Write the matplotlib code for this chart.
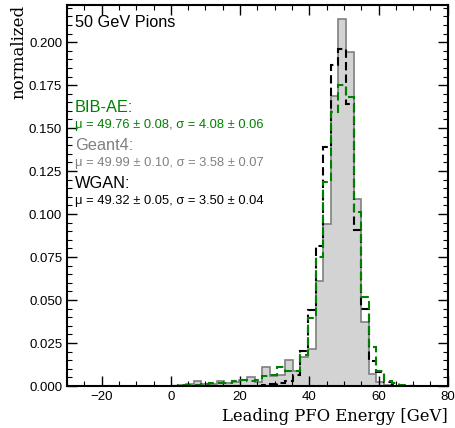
import numpy as np
import matplotlib
matplotlib.use("Agg")
from matplotlib import pyplot as plt
from matplotlib.ticker import MultipleLocator

# bin width 2.2 GeV, edges start at 0
bin_edges = np.round(np.arange(0, 33) * 2.2, 4)

geant4 = [0.0, 0.0006, 0.001, 0.003, 0.001, 0.0013, 0.0028, 0.002, 0.0025, 0.0035,
          0.005, 0.0025, 0.0112, 0.0058, 0.0063, 0.0154, 0.0088, 0.017, 0.0217, 0.0612,
          0.0942, 0.1689, 0.2137, 0.1943, 0.1089, 0.0371, 0.0068, 0.0025, 0.0006, 0.0,
          0.0, 0.0]
bib_ae = [0.0, 0.0004, 0.0006, 0.0008, 0.0013, 0.0015, 0.002, 0.002, 0.003, 0.0035,
          0.003, 0.0035, 0.0058, 0.0067, 0.011, 0.0085, 0.0088, 0.0179, 0.0395, 0.0753,
          0.1189, 0.1593, 0.1748, 0.1681, 0.1011, 0.0515, 0.0227, 0.0085, 0.0028, 0.0015,
          0.0006, 0.0]
wgan = [0.0, 0.0, 0.0, 0.0, 0.0, 0.0, 0.0, 0.0, 0.0, 0.0,
        0.0, 0.0, 0.0004, 0.001, 0.0015, 0.003, 0.0065, 0.0206, 0.0445, 0.0814,
        0.1389, 0.1864, 0.1958, 0.1641, 0.091, 0.0446, 0.0145, 0.0079, 0.0025, 0.0008,
        0.0, 0.0]

labels = ["BIB-AE:", "Geant4:", "WGAN:"]
stats = ["μ = 49.76 ± 0.08, σ = 4.08 ± 0.06",
         "μ = 49.99 ± 0.10, σ = 3.58 ± 0.07",
         "μ = 49.32 ± 0.05, σ = 3.50 ± 0.04"]
colors = ["green", "gray", "black"]

plt.rcParams["font.family"] = ["Liberation Sans", "DejaVu Sans"]

centers = (bin_edges[:-1] + bin_edges[1:]) / 2

fig = plt.figure(figsize=(4.56, 4.28), dpi=100)
ax = fig.add_axes([0.147, 0.098, 0.835, 0.89])

ax.hist(centers, bins=bin_edges, weights=geant4, histtype="stepfilled",
        facecolor="lightgray", edgecolor="gray", linewidth=1.2)
ax.hist(centers, bins=bin_edges, weights=wgan, histtype="step",
        color="black", linestyle=(0, (4, 2)), linewidth=1.5)
ax.hist(centers, bins=bin_edges, weights=bib_ae, histtype="step",
        color="green", linestyle=(0, (4, 2)), linewidth=1.5)

ax.set_xlim(-30, 80)
ax.set_ylim(0, 0.2215)
ax.xaxis.set_major_locator(MultipleLocator(20))
ax.xaxis.set_minor_locator(MultipleLocator(5))
ax.yaxis.set_major_locator(MultipleLocator(0.025))
ax.yaxis.set_minor_locator(MultipleLocator(0.005))
ax.tick_params(which="both", direction="in", top=True, right=True, labelsize=9.5)
ax.tick_params(which="major", length=7, width=1)
ax.tick_params(which="minor", length=3.5, width=0.8)
for s in ax.spines.values():
    s.set_linewidth(1.5)

ax.set_xlabel("Leading PFO Energy [GeV]", loc="right", family="DejaVu Serif", fontsize=11.8)
ax.set_ylabel("normalized", loc="top", family="DejaVu Serif", fontsize=12, labelpad=1)

ax.text(0.02, 0.955, "50 GeV Pions", transform=ax.transAxes, fontsize=11.7, va="center")
ys = [0.732, 0.6325, 0.533]
for lab, st, c, y in zip(labels, stats, colors, ys):
    ax.text(0.02, y, lab, transform=ax.transAxes, fontsize=11.8, color=c, va="center")
    ax.text(0.02, y - 0.047, st, transform=ax.transAxes, fontsize=9.3, color=c, va="center")

fig.savefig("out.png", dpi=100)
